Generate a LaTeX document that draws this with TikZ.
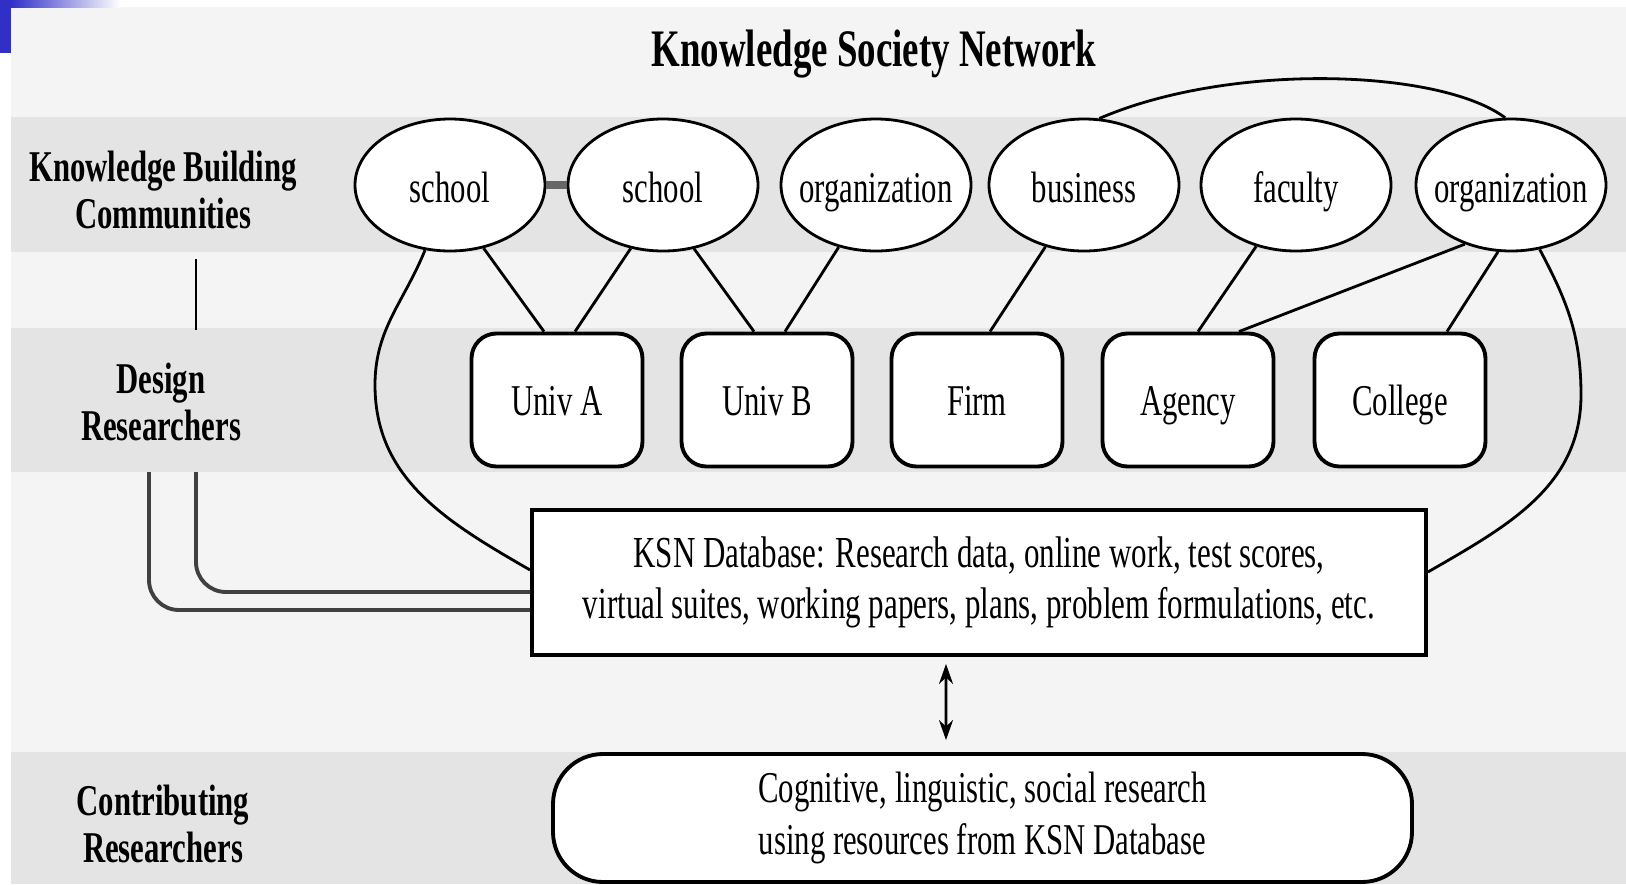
\documentclass[tikz,border=0pt]{standalone}
\usepackage{fontspec}
\setmainfont{Liberation Serif}[FakeStretch=0.7]
\usetikzlibrary{shapes.geometric,arrows.meta}
\definecolor{bggray}{RGB}{244,244,244}
\definecolor{bandgray}{RGB}{228,228,228}
\definecolor{slideblue}{RGB}{48,48,200}
\begin{document}
\begin{tikzpicture}[x=0.1mm,y=0.1mm,
    community/.style={ellipse,draw,thick,fill=white,minimum width=19mm,
      minimum height=13.2mm,inner xsep=-1.5mm,inner ysep=0pt,text height=3.4mm,text depth=0mm,
      font=\fontsize{12.5}{15}\selectfont},
    researcher/.style={draw,line width=1.1pt,rounded corners=2.5mm,fill=white,
      minimum width=17.1mm,minimum height=13.3mm,text height=3mm,text depth=0mm,
      font=\fontsize{12.5}{15}\selectfont},
    rowlabel/.style={align=center,font=\bfseries\fontsize{12.5}{13.4}\selectfont},
    link/.style={thick},
    feed/.style={line width=1.1pt,draw=black!75,rounded corners=3mm}]
                \useasboundingbox (0,0) rectangle (1626,884);
                % slide background
                \fill[white] (0,0) rectangle (1626,884);
                \fill[bggray] (11,0) rectangle (1626,877);
                \fill[slideblue] (0,831) rectangle (11,884);
                \shade[left color=slideblue,right color=white] (11,877) rectangle (120,884);
                % bands
                \fill[bandgray] (11,632) rectangle (1626,767);
                \fill[bandgray] (11,412) rectangle (1626,556);
                \fill[bandgray] (11,0) rectangle (1626,132);
                % title and row labels
                \node[font=\bfseries\fontsize{15}{18}\selectfont] (title) at (874,830) {Knowledge Society Network};
                \node[rowlabel] (kbc) at (163,694) {Knowledge Building\\Communities};
                \node[rowlabel] (design) at (161,482) {Design\\Researchers};
                \node[rowlabel] (contrib) at (163,60) {Contributing\\Researchers};
                % communities
                \node[community] (school1) at (450,699) {school};
                \node[community] (school2) at (663,699) {school};
                \node[community] (org1) at (876,699) {organization};
                \node[community] (business) at (1084,699) {business};
                \node[community] (faculty) at (1296,699) {faculty};
                \node[community] (org2) at (1511,699) {organization};
                % design researchers
                \node[researcher] (univA) at (557,484) {Univ A};
                \node[researcher] (univB) at (767,484) {Univ B};
                \node[researcher] (firm) at (977,484) {Firm};
                \node[researcher] (agency) at (1188,484) {Agency};
                \node[researcher] (college) at (1400,484) {College};
                % database and contributing research
                \node[draw,line width=1.1pt,fill=white,minimum width=89.4mm,minimum height=14.5mm,
                  align=center,font=\fontsize{12.6}{14.4}\selectfont] (ksn) at (979,301.5)
                  {KSN Database: Research data, online work, test scores,\\virtual suites, working papers, plans, problem formulations, etc.};
                \node[draw,line width=1.1pt,fill=white,rounded corners=5mm,minimum width=85.9mm,minimum height=12.8mm,
                  align=center,font=\fontsize{12.5}{14.8}\selectfont] (contribbox) at (982.5,66)
                  {Cognitive, linguistic, social research\\using resources from KSN Database};
                % community links
                \draw[line width=2pt,draw=black!60] (school1.east) -- (school2.west);
                \draw[link] (school1.-62) -- ([xshift=-1.3mm]univA.north);
                \draw[link] (school2.-117) -- ([xshift=1.8mm]univA.north);
                \draw[link] (school2.-64) -- ([xshift=-1.3mm]univB.north);
                \draw[link] (org1.-121) -- ([xshift=1.8mm]univB.north);
                \draw[link] (business.-122) -- ([xshift=1.3mm]firm.north);
                \draw[link] (faculty.-123) -- ([xshift=1mm]agency.north);
                \draw[link] (org2.-128) -- ([xshift=5.1mm]agency.north);
                \draw[link] (org2.-101) -- ([xshift=4.7mm]college.north);
                \draw[link] (business.77) .. controls (1230,822) and (1440,815) .. (org2.95);
                % links to the database
                \draw[link] (school1.-111) to[out=-112,in=90] (375,499) to[out=-90,in=150] ([yshift=1.25mm]ksn.west);
                \draw[link] (org2.-66) to[out=-62,in=90] (1581,489) to[out=-90,in=30] ([yshift=1.05mm]ksn.east);
                \draw[{Stealth[length=2mm,width=1.4mm]}-{Stealth[length=2mm,width=1.4mm]},thick]
                  ([xshift=-3.3mm,yshift=-0.7mm]ksn.south) -- ([xshift=-3.65mm,yshift=1.2mm]contribbox.north);
                % researchers' lines
                \coordinate (kbcfoot) at (196,625);
                \coordinate (designtop) at (196,554);
                \coordinate (designA) at (196,412);
                \coordinate (designB) at (149,412);
                \draw[thick] (kbcfoot) -- (designtop);
                \draw[feed] (designA) |- ([yshift=-0.95mm]ksn.west);
                \draw[feed] (designB) |- ([yshift=-2.75mm]ksn.west);
              \end{tikzpicture}
\end{document}
